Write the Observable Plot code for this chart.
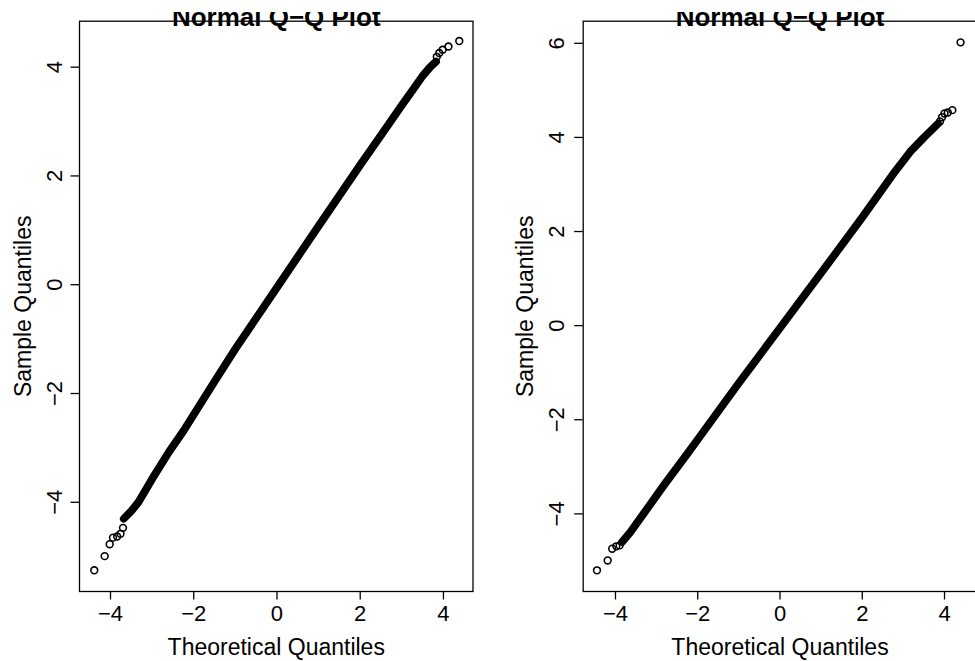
<!DOCTYPE html>
<html>
<head>
<meta charset="utf-8">
<script src="https://cdn.jsdelivr.net/npm/d3@7"></script>
<script src="https://cdn.jsdelivr.net/npm/@observablehq/plot@0.6"></script>
<style>
  html, body { margin: 0; padding: 0; background: white; overflow: hidden; width: 975px; height: 661px; }
  #wrap { position: absolute; left: 0; top: 12px; width: 985px; height: 649px; overflow: hidden; background: white; }
  #inner { display: flex; flex-wrap: nowrap; margin-top: -12px; width: 985px; }
  #inner svg { flex-shrink: 0; max-width: none; }
</style>
</head>
<body>
<div id="wrap"><div id="inner"></div></div>
<script>
// ---- Data ----
const xTicks = [-4, -2, 0, 2, 4];
const leftYTicks = [-4, -2, 0, 2, 4];
const rightYTicks = [-4, -2, 0, 2, 4, 6];

// Left panel: dense body of the Q-Q cloud (traced along the band)
const leftBodyX = [-3.68, -3.50, -3.33, -3.00, -2.60, -2.24, -1.50, -1.00, 0.00, 1.00, 2.00, 2.50, 3.00, 3.30, 3.50, 3.68, 3.82];
const leftBodyY = [-4.30, -4.16, -4.00, -3.57, -3.08, -2.68, -1.78, -1.18, -0.05, 1.08, 2.20, 2.75, 3.30, 3.62, 3.84, 4.00, 4.10];
// Left panel: isolated tail points
const leftTailX = [-4.39, -4.14, -4.02, -3.94, -3.84, -3.76, -3.70, 3.84, 3.90, 3.98, 4.12, 4.38];
const leftTailY = [-5.25, -4.99, -4.77, -4.65, -4.63, -4.58, -4.47, 4.19, 4.26, 4.32, 4.38, 4.48];

// Right panel
const rightBodyX = [-3.84, -3.64, -3.23, -2.83, -2.26, -2.00, -1.00, 0.00, 1.00, 2.00, 2.80, 3.17, 3.50, 3.84];
const rightBodyY = [-4.60, -4.39, -3.89, -3.40, -2.73, -2.42, -1.22, -0.05, 1.12, 2.30, 3.28, 3.70, 4.00, 4.29];
const rightTailX = [-4.45, -4.19, -4.08, -3.98, -3.90, 3.89, 3.94, 4.00, 4.08, 4.19, 4.39];
const rightTailY = [-5.20, -4.99, -4.74, -4.69, -4.67, 4.34, 4.43, 4.51, 4.53, 4.58, 6.02];

const titleText = "Normal Q\u2212Q Plot";
const xLabelText = "Theoretical Quantiles";
const yLabelText = "Sample Quantiles";

const FONT = "'Liberation Sans', Arial, Helvetica, sans-serif";
const fmt = d => (d < 0 ? "\u2212" : "") + Math.abs(d);

function panel(o) {
  const body = o.bodyX.map((x, i) => ({x, y: o.bodyY[i]}));
  const tail = o.tailX.map((x, i) => ({x, y: o.tailY[i]}));
  return Plot.plot({
    width: o.width,
    height: 661,
    marginLeft: o.marginLeft,
    marginRight: o.marginRight,
    marginTop: 20.7,
    marginBottom: 70,
    x: {domain: o.xDomain},
    y: {domain: o.yDomain},
    style: {fontFamily: FONT, background: "white", color: "black", overflow: "visible"},
    marks: [
      Plot.line(body, {x: "x", y: "y", stroke: "black", strokeWidth: 7.8, strokeLinecap: "round", strokeLinejoin: "round"}),
      Plot.dot(tail, {x: "x", y: "y", r: 3.4, stroke: "black", strokeWidth: 1.6, fill: "none"}),
      Plot.frame({stroke: "black", strokeWidth: 1.3}),
      Plot.axisX(xTicks, {tickSize: 8.5, tickPadding: 5.5, fontSize: 22, tickFormat: fmt, label: null, strokeWidth: 1.3}),
      Plot.axisY(o.yTicks, {tickSize: 8.5, tickRotate: -90, tickPadding: o.yTickPad, fontSize: 22, tickFormat: fmt, label: null, strokeWidth: 1.3}),
      Plot.text([yLabelText], {frameAnchor: "left", textAnchor: "middle", rotate: -90, lineAnchor: "bottom", dx: -o.yLabelOff, fontSize: 23}),
      Plot.text([xLabelText], {frameAnchor: "bottom", textAnchor: "middle", lineAnchor: "bottom", dy: 63, fontSize: 23}),
      Plot.text([titleText], {frameAnchor: "top", textAnchor: "middle", lineAnchor: "bottom", dy: 4.3, fontSize: 26, fontWeight: "bold"})
    ]
  });
}

const inner = document.getElementById("inner");
inner.append(panel({
  width: 495, marginLeft: 79, marginRight: 22.5,
  xDomain: [-4.745, 4.71], yDomain: [-5.64, 4.845], yTicks: leftYTicks,
  bodyX: leftBodyX, bodyY: leftBodyY, tailX: leftTailX, tailY: leftTailY,
  yTickPad: 8.8, yLabelOff: 49
}));
inner.append(panel({
  width: 485, marginLeft: 87.7, marginRight: 3.7,
  xDomain: [-4.785, 4.785], yDomain: [-5.65, 6.47], yTicks: rightYTicks,
  bodyX: rightBodyX, bodyY: rightBodyY, tailX: rightTailX, tailY: rightTailY,
  yTickPad: 11, yLabelOff: 50.7
}));
</script>
</body>
</html>
